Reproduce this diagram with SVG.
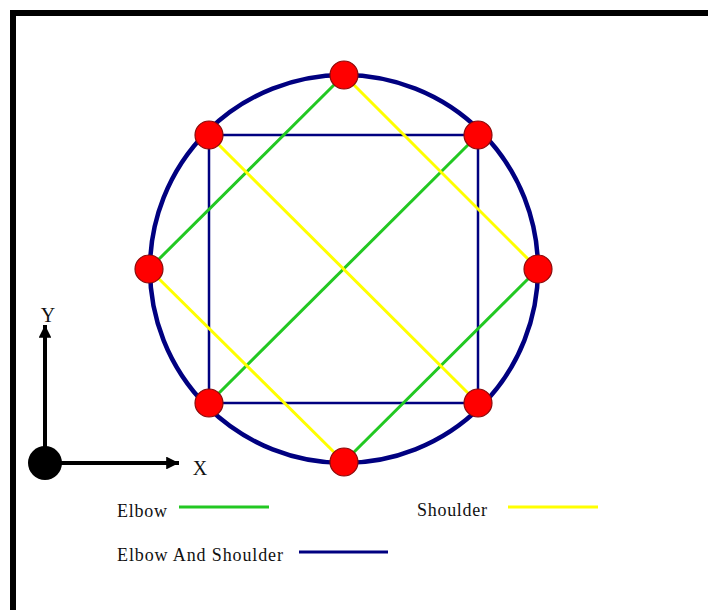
<svg xmlns="http://www.w3.org/2000/svg" width="708" height="610" viewBox="0 0 708 610">
<style>
.lbl{font-family:"Liberation Serif","Times New Roman",serif;fill:#111;}
.node{fill:#ff0000;stroke:#8a0b0b;stroke-width:1.2;}
.el{stroke:#22c822;stroke-width:3;fill:none;}
.sh{stroke:#ffff00;stroke-width:3;fill:none;}
.bs{stroke:#000080;fill:none;}
</style>
<rect width="708" height="610" fill="#ffffff"/>
<path d="M13 610 V13 H708" fill="none" stroke="#000" stroke-width="6"/>
<defs>
<marker id="arr" viewBox="0 0 10 10" refX="10" refY="5" markerWidth="3.4" markerHeight="3.2" orient="auto" markerUnits="strokeWidth">
<path d="M0 0 L10 5 L0 10 Z" fill="#000"/>
</marker>
</defs>
<g id="connectors">
<circle class="bs" cx="344" cy="269" r="194" stroke-width="4.5"/>
<rect class="bs" x="209" y="135" width="269" height="268" stroke-width="2.5"/>
<line class="el" x1="344" y1="75" x2="149" y2="269"/>
<line class="el" x1="478" y1="135" x2="209" y2="403"/>
<line class="el" x1="538" y1="269" x2="344" y2="462"/>
<line class="sh" x1="344" y1="75" x2="538" y2="269"/>
<line class="sh" x1="209" y1="135" x2="478" y2="403"/>
<line class="sh" x1="149" y1="269" x2="344" y2="462"/>
</g>
<g id="n-top"><circle class="node" cx="344" cy="75" r="14"/></g>
<g id="n-tl"><circle class="node" cx="209" cy="135" r="14"/></g>
<g id="n-tr"><circle class="node" cx="478" cy="135" r="14"/></g>
<g id="n-left"><circle class="node" cx="149" cy="269" r="14"/></g>
<g id="n-right"><circle class="node" cx="538" cy="269" r="14"/></g>
<g id="n-bl"><circle class="node" cx="209" cy="403" r="14"/></g>
<g id="n-br"><circle class="node" cx="478" cy="403" r="14"/></g>
<g id="n-bottom"><circle class="node" cx="344" cy="462" r="14"/></g>
<g id="axes">
<line x1="45" y1="463" x2="45" y2="325" stroke="#000" stroke-width="4" marker-end="url(#arr)"/>
<line x1="45" y1="463" x2="179" y2="463" stroke="#000" stroke-width="4" marker-end="url(#arr)"/>
<circle cx="45" cy="463" r="17" fill="#000"/>
<text class="lbl" x="48" y="322" font-size="20" text-anchor="middle">Y</text>
<text class="lbl" x="200" y="475" font-size="20" text-anchor="middle">X</text>
</g>
<g id="legend">
<text class="lbl" x="117" y="517" font-size="18" textLength="50">Elbow</text>
<line x1="179" y1="507" x2="269" y2="507" stroke="#22c822" stroke-width="3"/>
<text class="lbl" x="417" y="516" font-size="18" textLength="70">Shoulder</text>
<line x1="508" y1="507" x2="598" y2="507" stroke="#ffff00" stroke-width="3"/>
<text class="lbl" x="117" y="561" font-size="18" textLength="166">Elbow And Shoulder</text>
<line x1="299" y1="552" x2="388" y2="552" stroke="#000080" stroke-width="3"/>
</g>
</svg>
